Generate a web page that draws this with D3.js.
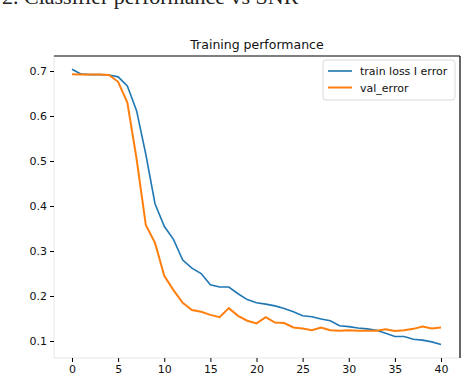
<!DOCTYPE html>
<html><head><meta charset="utf-8">
<script src="https://cdn.jsdelivr.net/npm/d3@7"></script>
<style>body{margin:0;background:#fff}svg{display:block}</style>
</head><body>
<script>
const epochs = d3.range(0, 41);
const trainLoss = [0.704,0.693,0.692,0.692,0.691,0.687,0.667,0.612,0.515,0.405,0.355,0.326,0.280,0.262,0.250,0.225,0.220,0.220,0.205,0.192,0.185,0.182,0.178,0.172,0.165,0.156,0.154,0.149,0.145,0.134,0.132,0.129,0.127,0.124,0.117,0.110,0.110,0.104,0.102,0.098,0.092];
const valError = [0.693,0.692,0.692,0.692,0.691,0.676,0.630,0.505,0.358,0.318,0.245,0.213,0.185,0.169,0.165,0.158,0.153,0.173,0.156,0.145,0.139,0.153,0.141,0.140,0.130,0.128,0.124,0.130,0.124,0.123,0.124,0.123,0.123,0.123,0.126,0.122,0.124,0.127,0.132,0.128,0.130];
const xTicks = [0,5,10,15,20,25,30,35,40];
const yTicks = [0.1,0.2,0.3,0.4,0.5,0.6,0.7];
const seriesNames = ["train loss I error","val_error"];
const colors = ["#1f77b4","#ff7f0e"];

const W = 468, H = 376;
const L = 54, R = 460, T = 56, B = 358;
const svg = d3.select("body").append("svg").attr("width", W).attr("height", H);

// cropped caption from the document
svg.append("text").attr("x", 2).attr("y", 4)
  .attr("font-family", "'Liberation Serif', 'Times New Roman', serif")
  .attr("font-size", 22).attr("fill", "#222")
  .text("2.  Classifier performance vs SNR");

const x = d3.scaleLinear().domain([0, 40]).range([72, 441]);
const y = d3.scaleLinear().domain([0.1, 0.7]).range([341, 71]);

// spines
svg.append("line").attr("x1", L).attr("x2", L).attr("y1", T).attr("y2", B).attr("stroke", "#e6e6e6");
svg.append("line").attr("x1", L).attr("x2", R).attr("y1", B).attr("y2", B).attr("stroke", "#e6e6e6");
svg.append("line").attr("x1", L).attr("x2", R).attr("y1", T).attr("y2", T).attr("stroke", "#000").attr("stroke-width", 1.2);
svg.append("line").attr("x1", R).attr("x2", R).attr("y1", T).attr("y2", B).attr("stroke", "#000").attr("stroke-width", 1.2);

const font = "'DejaVu Sans', sans-serif";
const xAxis = svg.append("g").attr("transform", `translate(0,${B})`)
  .call(d3.axisBottom(x).tickValues(xTicks).tickSize(4).tickPadding(3).tickFormat(d3.format("d")));
xAxis.select(".domain").remove();
xAxis.selectAll("text").attr("font-family", font).attr("font-size", 11).attr("fill", "#111");
const yAxis = svg.append("g").attr("transform", `translate(${L},0)`)
  .call(d3.axisLeft(y).tickValues(yTicks).tickSize(4).tickPadding(3).tickFormat(d3.format(".1f")));
yAxis.select(".domain").remove();
yAxis.selectAll("text").attr("font-family", font).attr("font-size", 11).attr("fill", "#111");

svg.append("text").attr("x", (L + R) / 2).attr("y", 49).attr("text-anchor", "middle")
  .attr("font-family", font).attr("font-size", 12.5).attr("fill", "#111").text("Training performance");

const line = d3.line().x((d, i) => x(epochs[i])).y(d => y(d));
svg.append("path").datum(trainLoss).attr("d", line).attr("fill", "none")
  .attr("stroke", colors[0]).attr("stroke-width", 1.6);
svg.append("path").datum(valError).attr("d", line).attr("fill", "none")
  .attr("stroke", colors[1]).attr("stroke-width", 2);

// legend
const lg = svg.append("g");
lg.append("rect").attr("x", 323).attr("y", 60).attr("width", 132).attr("height", 40).attr("rx", 3)
  .attr("fill", "#fff").attr("fill-opacity", 0.85).attr("stroke", "#d8d8d8");
seriesNames.forEach((n, i) => {
  const yy = 71 + i * 16.5;
  lg.append("line").attr("x1", 328).attr("x2", 352).attr("y1", yy).attr("y2", yy)
    .attr("stroke", colors[i]).attr("stroke-width", i ? 2 : 1.6);
  lg.append("text").attr("x", 360).attr("y", yy + 4).attr("font-family", font).attr("font-size", 11)
    .attr("fill", "#111").text(n);
});
</script>
</body></html>
